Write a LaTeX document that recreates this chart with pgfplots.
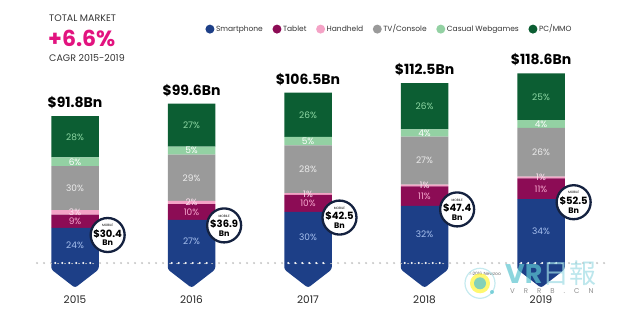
\documentclass[border=0pt]{standalone}
\usepackage{pgfplots}
\pgfplotsset{compat=1.18}
\usepackage{fontspec}
\setmainfont{Poppins}
\newfontfamily\cjk{Noto Sans CJK SC}
\definecolor{cSmart}{HTML}{1D3F87}
\definecolor{cTab}{HTML}{8C0C55}
\definecolor{cHand}{HTML}{F4A3C6}
\definecolor{cTV}{HTML}{9A9A9A}
\definecolor{cCas}{HTML}{93D1A3}
\definecolor{cPC}{HTML}{0C5E33}
\definecolor{cMag}{HTML}{E2137F}
\definecolor{cNavy}{HTML}{14213F}
\definecolor{cDot}{HTML}{C8C8C8}
\definecolor{cTeal}{HTML}{5CC5D0}
\definecolor{cTealL}{HTML}{9FDCE4}
\definecolor{tPC}{HTML}{8FD9A5}
\definecolor{tTV}{HTML}{ECECEC}
\definecolor{tHand}{HTML}{FDE0EE}
\definecolor{tTab}{HTML}{F7A8CF}
\definecolor{tSmart}{HTML}{A7C0EE}
\pgfplotsset{
  base/.style={at={(0pt,0pt)}, anchor=south west, scale only axis,
    width=640pt, height=327pt, xmin=-0.644, xmax=4.8496, ymin=-40, ymax=164.4,
    hide axis, clip=false},
  legdot/.style={legend image code/.code={\fill (0pt,0pt) circle (4.5pt);}},
  chev/.style={fill=cSmart, draw=none, rounded corners=2.5pt},
  wdots/.style={white, line width=2.4pt, dash pattern=on 0pt off 7pt, line cap=round},
}
\newcommand{\pl}[4]{\node[text=#3, font=\fontsize{9}{10}\selectfont] at (axis cs:#1,#2) {#4\%};}
\newcommand{\tot}[3]{\node[anchor=base, font=\fontsize{14}{16}\selectfont\bfseries] at (axis cs:#1,#2) {\$#3Bn};}
\newcommand{\yr}[2]{\node[font=\fontsize{10.5}{12}\selectfont, text=black!85] at (axis cs:#1,-23.1) {#2};}
\newcommand{\mob}[3]{%
  \node[circle, draw=cNavy, line width=2.3pt, fill=white, minimum size=34pt, inner sep=0pt] at (axis cs:#1,#2) {};
  \node[font=\fontsize{3.2}{4}\selectfont, yshift=9.5pt] at (axis cs:#1,#2) {MOBILE};
  \node[font=\fontsize{10}{12}\selectfont\bfseries, yshift=1.5pt] at (axis cs:#1,#2) {\$#3};
  \node[font=\fontsize{8}{9}\selectfont\bfseries, yshift=-8pt] at (axis cs:#1,#2) {Bn};}
\begin{document}
\begin{tikzpicture}
% layer 1: chevrons and baseline
\begin{axis}[base]
\addplot[chev] coordinates {(-0.204,0) (-0.204,-4) (0,-15.5) (0.204,-4) (0.204,0)};
\addplot[chev] coordinates {(0.796,0) (0.796,-4) (1,-15.5) (1.204,-4) (1.204,0)};
\addplot[chev] coordinates {(1.796,0) (1.796,-4) (2,-15.5) (2.204,-4) (2.204,0)};
\addplot[chev] coordinates {(2.796,0) (2.796,-4) (3,-15.5) (3.204,-4) (3.204,0)};
\addplot[chev] coordinates {(3.796,0) (3.796,-4) (4,-15.5) (4.204,-4) (4.204,0)};
\addplot[cDot, line width=2.4pt, dash pattern=on 0pt off 7pt, line cap=round] coordinates {(-0.326,0) (4.55,0)};
\end{axis}
% layer 2: stacked bars (values in $Bn)
\begin{axis}[base, ybar stacked, bar width=47.5pt,
  legend columns=6,
  legend style={at={(0.316,0.911)}, anchor=west, draw=none, fill=none,
    font=\fontsize{7.5}{9}\selectfont, text=black!80,
    nodes={inner sep=1.6pt},
    /tikz/every even column/.append style={column sep=8pt}}]
\addplot[fill=cSmart, draw=none, legdot] coordinates {(0,22.03) (1,26.89) (2,31.95) (3,35.64) (4,39.92)};
\addplot[fill=cTab, draw=none, legdot] coordinates {(0,8.26) (1,9.96) (2,10.65) (3,12.25) (4,12.92)};
\addplot[fill=cHand, draw=none, legdot] coordinates {(0,2.75) (1,1.99) (2,1.07) (3,1.11) (4,1.17)};
\addplot[fill=cTV, draw=none, legdot] coordinates {(0,27.54) (1,28.88) (2,29.82) (3,30.07) (4,30.53)};
\addplot[fill=cCas, draw=none, legdot] coordinates {(0,5.51) (1,4.98) (2,5.33) (3,4.46) (4,4.70)};
\addplot[fill=cPC, draw=none, legdot] coordinates {(0,25.70) (1,26.89) (2,27.69) (3,28.96) (4,29.36)};
\legend{Smartphone, Tablet, Handheld, TV/Console, Casual Webgames, PC/MMO}
\end{axis}
% layer 3: overlays
\begin{axis}[base]
\addplot[wdots] coordinates {(-0.17,0) (0.19,0)};
\addplot[wdots] coordinates {(0.83,0) (1.19,0)};
\addplot[wdots] coordinates {(1.83,0) (2.19,0)};
\addplot[wdots] coordinates {(2.83,0) (3.19,0)};
\addplot[wdots] coordinates {(3.83,0) (4.19,0)};
% percent labels
\pl{0}{11.0}{tSmart}{24}\pl{0}{26.2}{tTab}{9}\pl{0}{31.7}{tHand}{3}\pl{0}{46.8}{tTV}{30}\pl{0}{63.3}{white}{6}\pl{0}{78.9}{tPC}{28}
\pl{1}{13.45}{tSmart}{27}\pl{1}{31.87}{tTab}{10}\pl{1}{37.85}{tHand}{2}\pl{1}{53.28}{tTV}{29}\pl{1}{70.21}{white}{5}\pl{1}{86.15}{tPC}{27}
\pl{2}{15.98}{tSmart}{30}\pl{2}{37.28}{tTab}{10}\pl{2}{43.14}{tHand}{1}\pl{2}{58.58}{tTV}{28}\pl{2}{76.16}{white}{5}\pl{2}{92.67}{tPC}{26}
\pl{3}{17.82}{tSmart}{32}\pl{3}{41.77}{tTab}{11}\pl{3}{48.45}{tHand}{1}\pl{3}{64.04}{tTV}{27}\pl{3}{81.30}{white}{4}\pl{3}{98.01}{tPC}{26}
\pl{4}{19.96}{tSmart}{34}\pl{4}{46.38}{tTab}{11}\pl{4}{53.43}{tHand}{1}\pl{4}{69.28}{tTV}{26}\pl{4}{86.89}{white}{4}\pl{4}{103.92}{tPC}{25}
% totals
\tot{0}{97.1}{91.8}\tot{1}{104.9}{99.6}\tot{2}{111.8}{106.5}\tot{3}{117.8}{112.5}\tot{4}{123.9}{118.6}
% years
\yr{0}{2015}\yr{1}{2016}\yr{2}{2017}\yr{3}{2018}\yr{4}{2019}
% mobile circles
\mob{0.28}{17.5}{30.4}
\mob{1.28}{23.5}{36.9}
\mob{2.27}{28.4}{42.5}
\mob{3.28}{33.5}{47.4}
\mob{4.28}{38}{52.5}
\end{axis}
% title block
\node[anchor=west, font=\fontsize{9.5}{11}\selectfont, text=black!80, inner sep=0pt] at (49pt,308.7pt) {TOTAL MARKET};
\node[anchor=west, font=\fontsize{22}{24}\selectfont\bfseries, text=cMag, inner sep=0pt] at (48pt,288.3pt) {+6.6\%};
\node[anchor=west, font=\fontsize{9.5}{11}\selectfont, text=black!80, inner sep=0pt] at (49pt,269pt) {CAGR 2015-2019};
% watermark
\node[font=\fontsize{4.5}{5}\selectfont, text=black!60] at (485pt,53pt) {\textcopyright 2016 Newzoo};
\draw[cTealL, line width=1.2pt, opacity=.6] (480pt,43.7pt) circle (15pt);
\fill[yellow!75!white, opacity=.75] (480pt,43.7pt) circle (10pt);
\fill[cTeal, opacity=.75] (480pt,43.7pt) circle (6pt);
\fill[cTeal, opacity=.75] (492pt,35pt) circle (2pt);
\node[anchor=west, inner sep=0pt, opacity=.7, font=\fontsize{27}{28}\selectfont] at (505pt,54pt) {\textcolor{cTeal}{\bfseries VR}\textcolor{cTealL}{\cjk 日報}};
\node[anchor=west, inner sep=0pt, opacity=.8, text=black!55, font=\fontsize{7}{8}\selectfont] at (510pt,35.5pt) {V\hspace{9pt}R\hspace{9pt}R\hspace{9pt}B\hspace{9pt}.\hspace{9pt}C\hspace{9pt}N};
\pgfresetboundingbox
\path[use as bounding box] (0pt,0pt) rectangle (640pt,327pt);
\end{tikzpicture}
\end{document}
